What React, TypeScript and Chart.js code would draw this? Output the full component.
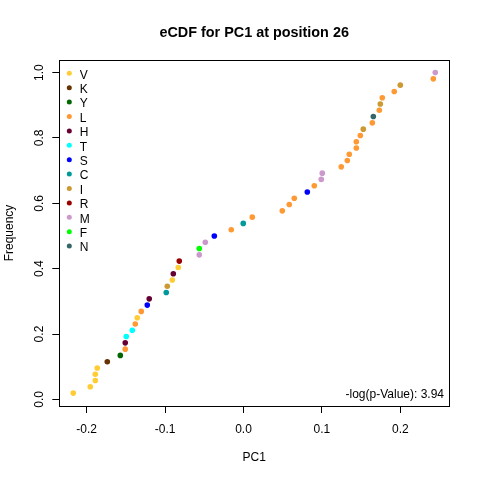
import { useEffect, useRef } from 'react';
import Chart from 'chart.js/auto';

// eCDF points, sorted by PC1
const pc1Values = [
  -0.2171, -0.1954, -0.189, -0.189, -0.1865, -0.1737, -0.1571, -0.1508, -0.1508, -0.1495,
  -0.1418, -0.138, -0.1355, -0.1304, -0.1227, -0.1202, -0.0985, -0.0972, -0.0908, -0.0895,
  -0.0832, -0.0819, -0.0564, -0.0564, -0.0487, -0.0372, -0.0156, -0.0003, 0.0112, 0.0495,
  0.0584, 0.0648, 0.0814, 0.0903, 0.0992, 0.1005, 0.1247, 0.1324, 0.1349, 0.1439,
  0.1439, 0.149, 0.1528, 0.1643, 0.1656, 0.1732, 0.1745, 0.177, 0.1923, 0.2,
  0.2421, 0.2446,
];
const frequencies = [
  0.0192, 0.0385, 0.0577, 0.0769, 0.0962, 0.1154, 0.1346, 0.1538, 0.1731, 0.1923,
  0.2115, 0.2308, 0.25, 0.2692, 0.2885, 0.3077, 0.3269, 0.3462, 0.3654, 0.3846,
  0.4038, 0.4231, 0.4423, 0.4615, 0.4808, 0.5, 0.5192, 0.5385, 0.5577, 0.5769,
  0.5962, 0.6154, 0.6346, 0.6538, 0.6731, 0.6923, 0.7115, 0.7308, 0.75, 0.7692,
  0.7885, 0.8077, 0.8269, 0.8462, 0.8654, 0.8846, 0.9038, 0.9231, 0.9423, 0.9615,
  0.9808, 1.0,
];
const pointResidues = [
  'V', 'V', 'V', 'V', 'V', 'K', 'Y', 'L', 'H', 'T',
  'T', 'L', 'V', 'L', 'S', 'H', 'C', 'I', 'V', 'H',
  'V', 'R', 'M', 'F', 'M', 'S', 'L', 'C', 'L', 'L',
  'L', 'L', 'S', 'L', 'M', 'M', 'L', 'L', 'L', 'L',
  'L', 'L', 'I', 'L', 'N', 'L', 'I', 'L', 'L', 'I',
  'L', 'M',
];

// legend order + colours
const residues = ['V', 'K', 'Y', 'L', 'H', 'T', 'S', 'C', 'I', 'R', 'M', 'F', 'N'];
const residueColors = [
  '#FFCC33', '#663300', '#006600', '#FF9933', '#660033', '#00FFFF', '#0000FF',
  '#009999', '#CC9933', '#990000', '#CC99CC', '#00FF00', '#336666',
];

const xTicks = [-0.2, -0.1, 0.0, 0.1, 0.2];
const yTicks = [0.0, 0.2, 0.4, 0.6, 0.8, 1.0];

const titleText = 'eCDF for PC1 at position 26';
const pValueText = '-log(p-Value): 3.94';

const FONT = '"Liberation Sans", Arial, sans-serif';

const rStylePlugin = {
  id: 'rStyle',
  afterDraw(chart: any) {
    const { ctx, chartArea, scales } = chart;
    const xs = scales.x;
    const ys = scales.y;
    ctx.save();

    // box
    ctx.strokeStyle = '#000';
    ctx.lineWidth = 1;
    ctx.strokeRect(
      Math.round(chartArea.left) + 0.5,
      Math.round(chartArea.top) + 0.5,
      Math.round(chartArea.right - chartArea.left),
      Math.round(chartArea.bottom - chartArea.top)
    );

    ctx.fillStyle = '#000';

    // title
    ctx.font = `bold 14.4px ${FONT}`;
    ctx.textAlign = 'center';
    ctx.textBaseline = 'alphabetic';
    ctx.fillText(titleText, (chartArea.left + chartArea.right) / 2, 37);

    // x tick labels
    ctx.font = `12px ${FONT}`;
    xTicks.forEach((v) => {
      const label = v === 0 ? '0.0' : v.toFixed(1);
      ctx.fillText(label, xs.getPixelForValue(v), 432.5);
    });

    // y tick labels (rotated like R)
    yTicks.forEach((v) => {
      ctx.save();
      ctx.translate(42.5, ys.getPixelForValue(v));
      ctx.rotate(-Math.PI / 2);
      ctx.fillText(v.toFixed(1), 0, 0);
      ctx.restore();
    });

    // axis titles
    ctx.fillText('PC1', (chartArea.left + chartArea.right) / 2, 460.7);
    ctx.save();
    ctx.translate(12.5, (chartArea.top + chartArea.bottom) / 2);
    ctx.rotate(-Math.PI / 2);
    ctx.fillText('Frequency', 0, 0);
    ctx.restore();

    // legend
    residues.forEach((r, i) => {
      const y = 73.3 + i * 14.4;
      ctx.fillStyle = residueColors[i];
      ctx.beginPath();
      ctx.arc(69.3, y, 2.5, 0, Math.PI * 2);
      ctx.fill();
      ctx.fillStyle = '#000';
      ctx.textAlign = 'left';
      ctx.fillText(r, 79.8, y + 5.2);
    });

    // p-value note
    ctx.textAlign = 'right';
    ctx.fillText(pValueText, 444, 398);

    ctx.restore();
  },
};

const App = () => {
  const canvasRef = useRef<HTMLCanvasElement>(null);
  const chartRef = useRef<Chart | null>(null);

  useEffect(() => {
    if (!canvasRef.current) return;
    if (chartRef.current) {
      chartRef.current.destroy();
      chartRef.current = null;
    }

    const datasets = residues.map((r, i) => ({
      label: r,
      data: pc1Values
        .map((x, k) => ({ x, y: frequencies[k], r: pointResidues[k] }))
        .filter((p) => p.r === r)
        .map((p) => ({ x: p.x, y: p.y })),
      backgroundColor: residueColors[i],
      borderWidth: 0,
      pointRadius: 2.8,
    }));

    const tickGrid = {
      display: true,
      drawOnChartArea: false,
      drawTicks: true,
      tickLength: 7,
      color: '#000',
      lineWidth: 1,
    };

    const chart = new Chart(canvasRef.current, {
      type: 'scatter',
      data: { datasets },
      options: {
        responsive: false,
        animation: false,
        devicePixelRatio: 1,
        layout: { padding: { top: 60, right: 31, left: 0, bottom: 0 } },
        plugins: {
          legend: { display: false },
          tooltip: { enabled: false },
          title: { display: false },
        },
        scales: {
          x: {
            type: 'linear',
            min: -0.2349,
            max: 0.2621,
            grid: tickGrid,
            border: { display: false },
            ticks: { display: false },
            afterBuildTicks: (s: any) => {
              s.ticks = xTicks.map((v) => ({ value: v }));
            },
            afterFit: (s: any) => {
              s.height = 74;
            },
          },
          y: {
            type: 'linear',
            min: -0.0202,
            max: 1.0385,
            grid: tickGrid,
            border: { display: false },
            ticks: { display: false },
            afterBuildTicks: (s: any) => {
              s.ticks = yTicks.map((v) => ({ value: v }));
            },
            afterFit: (s: any) => {
              s.width = 59.3;
            },
          },
        },
      },
      plugins: [rStylePlugin],
    });
    chartRef.current = chart;

    return () => {
      chart.destroy();
      chartRef.current = null;
    };
  }, []);

  return (
    <div style={{ position: 'fixed', left: 0, top: 0, width: 480, height: 480, background: '#fff' }}>
      <canvas ref={canvasRef} width={480} height={480} />
    </div>
  );
};

export default App;
